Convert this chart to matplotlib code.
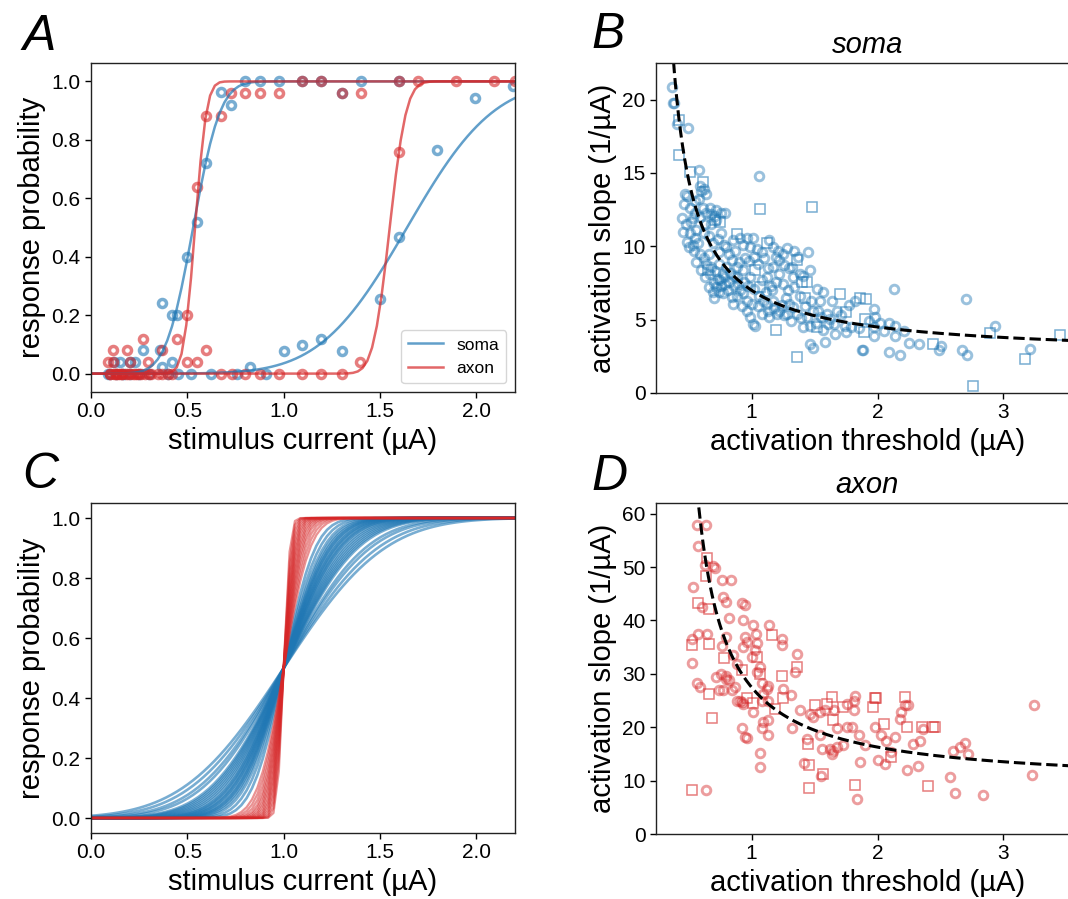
import numpy as np
import matplotlib
matplotlib.use('Agg')
import matplotlib.pyplot as plt
from math import erf

plt.rcParams['font.family'] = ['Liberation Sans', 'DejaVu Sans']

BLUE = '#1f77b4'
RED = '#d62728'

# ---------------- Panel A: measured response probabilities ----------------
soma1_x = [0.09, 0.12, 0.15, 0.17, 0.20, 0.23, 0.27, 0.357, 0.37, 0.37, 0.418, 0.418, 0.444,
           0.496, 0.548, 0.596, 0.672, 0.725, 0.80, 0.876, 0.976, 1.097, 1.195, 1.30, 1.40, 1.60]
soma1_y = [0.0, 0.04, 0.04, 0.0, 0.04, 0.04, 0.08, 0.08, 0.24, 0.023, 0.2, 0.04, 0.2,
           0.40, 0.52, 0.72, 0.963, 0.92, 1.0, 1.0, 1.0, 1.0, 1.0, 0.96, 1.0, 1.0]
soma2_x = [0.10, 0.13, 0.16, 0.20, 0.25, 0.30, 0.40, 0.45, 0.52, 0.625, 0.755, 0.827, 0.91,
           1.00, 1.097, 1.195, 1.30, 1.497, 1.598, 1.796, 1.995, 2.188]
soma2_y = [0.0, 0.0, 0.0, 0.0, 0.0, 0.0, 0.0, 0.0, 0.0, 0.0, 0.0, 0.023, 0.0,
           0.078, 0.097, 0.12, 0.078, 0.255, 0.469, 0.766, 0.943, 0.983]
axon1_x = [0.09, 0.10, 0.115, 0.115, 0.13, 0.14, 0.16, 0.185, 0.19, 0.20, 0.22, 0.24, 0.26,
           0.27, 0.28, 0.297, 0.31, 0.35, 0.366, 0.40, 0.444, 0.496, 0.548, 0.596, 0.677,
           0.725, 0.80, 0.876, 0.976, 1.097, 1.195, 1.30, 1.40, 1.60]
axon1_y = [0.04, 0.0, 0.08, 0.04, 0.0, 0.0, 0.0, 0.08, 0.0, 0.04, 0.0, 0.0, 0.0,
           0.12, 0.0, 0.04, 0.0, 0.0, 0.08, 0.0, 0.12, 0.20, 0.64, 0.88, 0.88,
           0.96, 0.96, 0.96, 0.96, 1.0, 1.0, 0.96, 0.96, 1.0]
axon2_x = [0.10, 0.12, 0.13, 0.15, 0.16, 0.18, 0.20, 0.23, 0.25, 0.30, 0.37, 0.42, 0.496,
           0.548, 0.596, 0.672, 0.733, 0.80, 0.876, 0.976, 1.097, 1.195, 1.30, 1.397, 1.598,
           1.696, 1.895, 2.093, 2.20]
axon2_y = [0.0, 0.0, 0.0, 0.0, 0.0, 0.0, 0.0, 0.0, 0.0, 0.0, 0.0, 0.0, 0.04,
           0.04, 0.08, 0.0, 0.0, 0.0, 0.0, 0.0, 0.0, 0.0, 0.0, 0.04, 0.76,
           1.0, 1.0, 1.0, 1.0]

# fitted sigmoid parameters (threshold, width)
soma_fit_thr = [0.53, 1.64]
soma_fit_sig = [0.111, 0.354]
axon_fit_thr = [0.54, 1.55]
axon_fit_sig = [0.047, 0.068]

# ---------------- Panel C: normalised fits (width relative to threshold) ----------------
soma_norm_sig = [0.128, 0.145, 0.16, 0.17, 0.178, 0.185, 0.19, 0.197, 0.205, 0.21,
                 0.217, 0.225, 0.23, 0.24, 0.25, 0.26, 0.27, 0.28, 0.29, 0.30,
                 0.33, 0.35, 0.38, 0.41]
axon_norm_sig = [0.025, 0.029, 0.033, 0.037, 0.041, 0.045, 0.049, 0.053, 0.058,
                 0.063, 0.068, 0.074, 0.080, 0.088, 0.097, 0.107]

# ---------------- Panel B: soma threshold vs slope ----------------
somaB_circ = [
    (0.364, 20.86), (0.378, 19.8), (0.385, 19.75), (0.404, 18.36), (0.497, 18.1), (0.58, 15.2),
    (0.59, 14.1), (0.60, 13.8), (1.06, 14.8), (0.47, 13.6), (0.485, 13.4), (0.55, 13.1),
    (0.64, 13.6), (0.51, 12.6), (0.55, 12.3), (0.64, 12.3), (0.68, 12.2), (0.72, 12.45),
    (0.76, 12.3), (0.79, 12.3), (0.48, 11.5), (0.52, 11.66), (0.59, 12.0), (0.56, 11.1),
    (0.62, 10.9), (0.68, 11.5), (0.72, 11.8), (0.76, 10.9), (0.51, 10.9), (0.55, 10.6),
    (0.50, 9.95), (0.54, 9.7), (0.59, 9.5), (0.66, 9.5), (0.64, 8.8), (0.68, 8.6), (0.67, 8.1),
    (0.80, 9.95), (0.85, 10.4), (0.91, 10.6), (0.96, 10.6), (1.01, 10.6), (0.99, 9.95),
    (1.04, 9.8), (1.08, 9.6), (1.17, 9.95), (1.21, 9.7), (1.25, 9.5), (1.22, 9.05), (1.26, 8.7),
    (1.30, 8.5), (1.37, 9.3), (1.45, 9.6), (1.46, 8.36), (1.38, 8.1), (1.33, 7.9), (1.34, 7.2),
    (1.29, 7.0), (1.22, 8.1), (1.17, 8.6), (1.12, 7.9), (1.08, 7.7), (0.99, 7.9), (0.93, 8.36),
    (0.88, 8.6), (0.84, 9.05), (0.80, 8.6), (0.77, 8.1), (0.75, 7.7), (0.79, 7.45), (0.81, 7.0),
    (0.77, 6.8), (0.84, 6.55), (0.85, 6.1), (0.91, 7.0), (0.93, 6.8), (0.96, 6.3), (1.00, 6.1),
    (0.96, 5.6), (1.01, 4.7), (1.03, 4.6), (1.11, 6.9), (1.12, 6.1), (1.16, 7.0), (1.17, 6.3),
    (1.20, 5.4), (1.22, 5.6), (1.28, 5.4), (1.33, 5.86), (1.36, 5.4), (1.41, 4.5), (1.49, 5.6),
    (1.53, 5.6), (1.54, 6.3), (1.57, 6.9), (1.60, 5.4), (1.62, 5.07), (1.61, 4.7), (1.65, 4.7),
    (1.77, 6.0), (1.82, 6.3), (1.85, 4.4), (1.97, 5.75), (1.98, 5.2), (1.97, 4.5), (1.97, 3.9),
    (2.02, 4.8), (2.09, 4.8), (2.13, 7.1), (2.14, 4.6), (2.14, 3.9), (2.09, 2.8), (2.18, 2.57),
    (1.88, 2.9), (1.885, 2.95), (1.66, 4.0), (1.75, 4.16), (1.46, 3.36), (1.49, 3.1),
    (2.33, 3.36), (2.49, 2.9), (2.50, 3.2), (2.67, 2.9), (2.71, 2.57), (2.70, 6.4), (2.93, 4.57),
    (3.21, 3.0), (0.70, 7.5), (0.72, 7.2), (0.74, 6.9), (0.70, 6.5), (0.73, 7.8), (0.76, 7.3),
    (0.78, 7.9), (0.82, 7.6), (0.86, 7.3), (0.88, 7.9), (0.90, 8.9), (0.95, 9.2), (0.98, 9.0),
    (1.02, 9.3), (1.05, 8.8), (1.10, 9.2), (1.13, 8.5), (1.15, 7.3), (1.19, 7.6), (1.25, 7.4),
    (1.27, 6.5), (1.30, 6.1), (1.38, 6.6), (1.42, 5.9), (1.44, 5.2), (1.51, 4.8), (1.57, 4.3),
    (1.68, 5.6), (1.71, 5.3), (0.62, 9.2), (0.63, 11.5), (0.69, 10.2), (0.73, 10.5),
    (0.78, 10.1), (0.57, 10.2), (0.53, 11.9), (0.46, 12.9), (0.45, 11.9), (0.61, 12.6),
    (0.67, 12.6), (0.705, 12.1), (0.88, 6.6), (0.92, 5.9), (1.05, 5.9), (1.08, 5.4),
    (1.14, 5.2), (1.18, 5.8), (1.26, 5.3), (1.32, 8.6), (1.41, 8.0), (1.47, 6.3), (1.52, 7.1),
    (0.56, 8.9), (0.60, 8.4), (0.63, 7.9), (0.66, 7.2), (0.69, 6.9), (0.71, 8.3), (0.74, 8.8),
    (0.83, 8.2), (0.86, 8.0), (0.89, 7.4), (0.94, 7.6), (0.97, 7.3), (1.02, 7.1), (1.06, 6.6),
    (0.99, 5.2), (1.09, 6.3), (1.13, 5.6), (1.24, 6.0), (1.31, 4.9), (1.39, 5.1), (1.46, 4.6),
    (1.55, 5.2), (1.58, 3.5), (1.64, 6.3), (1.74, 4.6), (1.79, 4.5), (1.93, 4.9), (2.05, 4.2),
    (2.21, 4.2), (2.25, 3.4), (0.66, 10.7), (0.74, 9.6), (0.82, 9.5), (0.87, 9.7), (0.93, 10.1),
    (1.14, 10.4), (1.19, 9.3), (1.28, 9.9), (1.34, 9.7), (0.58, 13.2), (0.62, 13.9),
    (0.455, 11.0), (0.49, 10.3), (0.53, 10.1),
]
somaB_sq = [
    (0.42, 18.6), (0.422, 16.25), (0.51, 15.07), (0.61, 14.4), (1.07, 12.57), (1.477, 12.68),
    (0.75, 11.66), (0.88, 10.86), (1.12, 10.2), (0.65, 8.36), (1.03, 8.36), (1.36, 9.05),
    (1.07, 7.2), (1.40, 7.6), (1.44, 7.6), (1.42, 6.5), (1.52, 4.5), (1.70, 6.77), (1.75, 5.5),
    (1.86, 6.5), (1.91, 6.4), (1.89, 4.16), (1.90, 5.07), (1.36, 2.45), (1.19, 4.27),
    (2.44, 3.36), (2.89, 4.1), (3.17, 2.3), (2.76, 0.45), (3.45, 3.93), (0.71, 11.8),
]

# ---------------- Panel D: axon threshold vs slope ----------------
axonD_circ = [
    (0.563, 57.9), (0.637, 57.8), (0.576, 54.0), (0.629, 50.4), (0.695, 50.2), (0.708, 49.9),
    (0.762, 47.5), (0.833, 47.6), (0.531, 46.2), (0.775, 44.3), (0.793, 43.5), (0.602, 42.5),
    (0.921, 43.2), (0.947, 42.9), (0.823, 40.5), (0.934, 40.1), (1.013, 39.1), (1.14, 39.1),
    (1.034, 37.4), (0.947, 36.9), (0.80, 36.9), (0.96, 36.0), (0.528, 36.6), (0.576, 37.4),
    (0.642, 37.4), (0.762, 35.2), (1.238, 36.6), (1.238, 35.4), (1.04, 35.7), (1.026, 34.4),
    (0.854, 33.5), (0.93, 35.1), (1.0, 33.2), (1.066, 31.3), (1.04, 30.4), (1.357, 33.7),
    (1.344, 30.4), (0.528, 32.1), (0.88, 31.9), (0.80, 29.1), (0.823, 28.8), (0.775, 26.9),
    (0.841, 26.9), (0.867, 27.5), (0.563, 28.3), (0.589, 27.5), (0.88, 25.0), (0.921, 24.7),
    (1.013, 22.8), (1.08, 28.2), (1.119, 27.2), (1.132, 27.7), (1.09, 26.3), (1.08, 25.0),
    (1.132, 25.0), (1.25, 27.2), (1.31, 26.0), (1.09, 21.0), (1.132, 21.4), (1.08, 19.9),
    (1.132, 18.5), (0.921, 19.9), (0.947, 18.1), (0.96, 18.0), (1.066, 15.2), (1.066, 12.5),
    (1.32, 19.9), (1.384, 23.2), (1.464, 22.5), (1.49, 21.9), (1.54, 22.8), (1.58, 23.2),
    (1.65, 23.2), (1.675, 19.9), (1.54, 18.5), (1.556, 16.0), (1.622, 16.0), (1.649, 15.6),
    (1.636, 15.0), (1.675, 16.3), (1.728, 16.6), (1.755, 20.0), (1.755, 24.4), (1.81, 25.0),
    (1.82, 25.8), (1.81, 23.2), (1.80, 20.0), (1.85, 18.5), (1.90, 16.6), (1.86, 13.5),
    (1.98, 20.0), (2.03, 18.5), (2.07, 17.5), (2.14, 18.1), (2.11, 15.3), (2.0, 13.8),
    (2.06, 13.1), (2.22, 24.1), (2.245, 24.1), (2.19, 22.8), (2.18, 21.6), (2.285, 16.8),
    (2.34, 17.5), (2.36, 19.7), (2.23, 11.9), (2.325, 12.8), (2.576, 10.6), (2.616, 7.6),
    (2.603, 15.6), (2.656, 16.3), (2.695, 17.1), (2.72, 14.9), (2.84, 7.3), (3.24, 24.1),
    (3.23, 11.1), (0.634, 8.3), (1.84, 6.6), (1.416, 13.25), (1.55, 10.8), (1.437, 17.8),
    (0.907, 25.0), (0.934, 24.4), (0.72, 29.5), (0.74, 27.0), (0.76, 29.9), (0.80, 29.6),
]
axonD_sq = [
    (0.642, 51.7), (0.637, 48.3), (0.571, 43.2), (0.664, 42.1), (1.164, 37.3), (0.523, 35.4),
    (0.664, 35.6), (0.78, 32.9), (1.04, 33.2), (1.066, 29.9), (1.357, 31.3), (0.923, 30.7),
    (1.238, 29.6), (0.664, 26.2), (0.682, 21.7), (0.96, 25.4), (1.013, 24.6), (1.245, 25.4),
    (1.185, 23.5), (1.503, 24.1), (1.596, 24.4), (1.649, 21.3), (1.636, 25.7), (1.728, 23.8),
    (1.98, 25.4), (1.99, 25.4), (1.967, 23.8), (2.05, 20.65), (2.11, 14.4), (2.22, 25.7),
    (2.23, 20.0), (2.35, 20.0), (2.44, 20.0), (2.46, 20.0), (2.40, 8.9), (0.523, 8.3),
    (1.456, 8.6), (1.82, 9.1), (1.456, 13.0), (1.566, 11.3), (1.445, 16.9),
]

# hyperbolic fit  slope = a / (threshold - c) + b
soma_hyp = dict(a=3.6, c=0.2, b=2.5, start=0.37)
axon_hyp = dict(a=12.0, c=0.35, b=9.0, start=0.58)

verf = np.vectorize(erf)


def cdf(x, mu, sig):
    return 0.5 * (1.0 + verf((x - mu) / (sig * np.sqrt(2.0))))


W, H = 1068, 899
fig = plt.figure(figsize=(W / 100, H / 100), dpi=100)


def ax_at(l, t, r, b):
    return fig.add_axes([l / W, 1 - b / H, (r - l) / W, (b - t) / H])


axA = ax_at(91, 63, 515, 392)
axB = ax_at(656, 63, 1079, 393)
axC = ax_at(91, 503, 515, 833)
axD = ax_at(656, 503, 1079, 834)

LAB = 21
TICK = 15
for ax in (axA, axB, axC, axD):
    ax.tick_params(labelsize=TICK, direction='out', length=4, width=1)
    for s in ax.spines.values():
        s.set_linewidth(1.0)
        s.set_color('#222222')

# ---- A ----
xs = np.linspace(0, 2.2, 90)
mk = dict(marker='o', ls='none', mfc='none', ms=5.8, mew=2.5, alpha=0.6)
axA.plot(soma1_x, soma1_y, color=BLUE, **mk)
axA.plot(soma2_x, soma2_y, color=BLUE, **mk)
axA.plot(axon1_x, axon1_y, color=RED, **mk)
axA.plot(axon2_x, axon2_y, color=RED, **mk)
for i, (t, s) in enumerate(zip(soma_fit_thr, soma_fit_sig)):
    axA.plot(xs, cdf(xs, t, s), color=BLUE, lw=1.8, alpha=0.7, label='soma' if i == 0 else None)
for i, (t, s) in enumerate(zip(axon_fit_thr, axon_fit_sig)):
    axA.plot(xs, cdf(xs, t, s), color=RED, lw=1.8, alpha=0.7, label='axon' if i == 0 else None)
axA.set_xlim(0, 2.2)
axA.set_ylim(-0.063, 1.063)
axA.set_xticks([0.0, 0.5, 1.0, 1.5, 2.0])
axA.set_yticks([0.0, 0.2, 0.4, 0.6, 0.8, 1.0])
axA.set_xlabel('stimulus current (µA)', fontsize=LAB)
axA.set_ylabel('response probability', fontsize=LAB)
axA.legend(loc='lower right', fontsize=12.5)

# ---- C ----
xc = np.linspace(0, 2.2, 80)
for s in soma_norm_sig:
    axC.plot(xc, cdf(xc, 1.0, s), color=BLUE, lw=1.9, alpha=0.6)
for s in axon_norm_sig:
    axC.plot(xc, cdf(xc, 1.0, s), color=RED, lw=1.6, alpha=0.5)
axC.set_xlim(0, 2.2)
axC.set_ylim(-0.05, 1.05)
axC.set_xticks([0.0, 0.5, 1.0, 1.5, 2.0])
axC.set_yticks([0.0, 0.2, 0.4, 0.6, 0.8, 1.0])
axC.set_xlabel('stimulus current (µA)', fontsize=LAB)
axC.set_ylabel('response probability', fontsize=LAB)


def scatter_panel(ax, circ, sq, color, hyp, ylim, yticks, title):
    cx, cy = zip(*circ)
    sx, sy = zip(*sq)
    ax.plot(cx, cy, ls='none', marker='o', mfc='none', mec=color, ms=6.2, mew=2.1, alpha=0.45)
    ax.plot(sx, sy, ls='none', marker='s', mfc='none', mec=color, ms=6.5, mew=1.1, alpha=0.6)
    xf = np.linspace(hyp['start'], 3.6, 200)
    ax.plot(xf, hyp['a'] / (xf - hyp['c']) + hyp['b'], 'k--', lw=2.2)
    ax.set_xlim(0.24, 3.6)
    ax.set_ylim(*ylim)
    ax.set_xticks([1, 2, 3])
    ax.set_yticks(yticks)
    ax.set_xlabel('activation threshold (µA)', fontsize=LAB)
    ax.set_ylabel('activation slope (1/µA)', fontsize=LAB)
    ax.set_title(title, fontsize=LAB, style='italic', pad=7)


scatter_panel(axB, somaB_circ, somaB_sq, BLUE, soma_hyp, (0, 22.5), [0, 5, 10, 15, 20], 'soma')
scatter_panel(axD, axonD_circ, axonD_sq, RED, axon_hyp, (0, 62), [0, 10, 20, 30, 40, 50, 60], 'axon')

# panel letters
for letter, x, y in (('A', 22, 50), ('B', 591, 48), ('C', 22, 488), ('D', 591, 490)):
    fig.text(x / W, 1 - y / H, letter, fontsize=36, style='italic', va='baseline', ha='left')

fig.savefig('out.png', dpi=100)
